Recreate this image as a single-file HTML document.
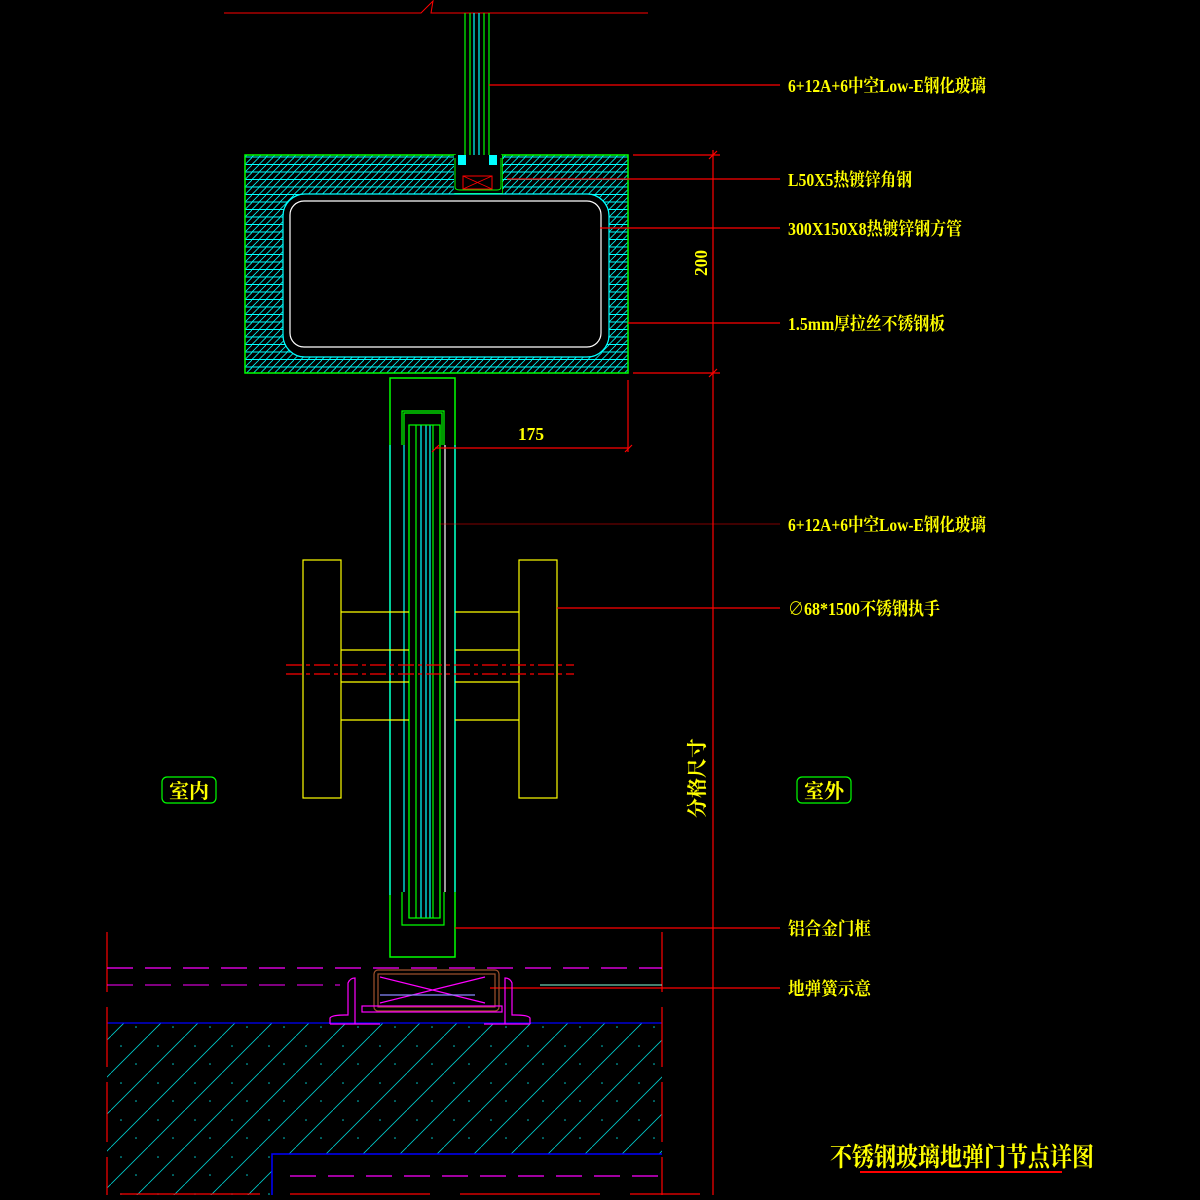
<!DOCTYPE html>
<html><head><meta charset="utf-8"><style>
html,body{margin:0;padding:0;background:#000;width:1200px;height:1200px;overflow:hidden}
svg{display:block}
text{font-family:"Liberation Serif","Noto Serif CJK SC","Noto Sans CJK SC",serif;fill:#ffff00;font-weight:bold}
</style></head><body>
<svg width="1200" height="1200" viewBox="0 0 1200 1200" xmlns="http://www.w3.org/2000/svg">
<defs>
<pattern id="h1" width="14" height="7.5" patternUnits="userSpaceOnUse">
<rect width="14" height="7.5" fill="#000"/>
<line x1="0" y1="7" x2="14" y2="7" stroke="#00ffff" stroke-width="1"/>
<line x1="0" y1="7" x2="7" y2="0" stroke="#00ffff" stroke-width="0.8"/>
<line x1="7" y1="7" x2="14" y2="0" stroke="#00ffff" stroke-width="0.8"/>
</pattern>
<pattern id="con" width="37" height="37" patternUnits="userSpaceOnUse">
<rect width="37" height="37" fill="#000"/>
<line x1="0" y1="37" x2="37" y2="0" stroke="#00cccc" stroke-width="0.8"/>
<circle cx="10" cy="10" r="0.8" fill="#00cccc"/>
<circle cx="25" cy="28" r="0.8" fill="#00cccc"/>
</pattern>
</defs>

<polyline points="224,13 421,13 433,1 431,13 648,13" fill="none" stroke="#f00" stroke-width="1"/>
<g stroke-width="1.2" fill="none">
<line x1="465" y1="13" x2="465" y2="172" stroke="#0f0"/>
<line x1="470" y1="13" x2="470" y2="172" stroke="#0f0"/>
<line x1="474" y1="13" x2="474" y2="172" stroke="#0ff"/>
<line x1="479" y1="13" x2="479" y2="172" stroke="#0ff"/>
<line x1="484" y1="13" x2="484" y2="172" stroke="#0f0"/>
<line x1="489" y1="13" x2="489" y2="172" stroke="#0f0"/>
</g>
<path d="M245,155 H455 V193 H502 V155 H628 V373 H245 Z" fill="url(#h1)" stroke="#0f0" stroke-width="1.5"/>
<rect x="283" y="194" width="326" height="163" rx="22" fill="#000" stroke="#0ff" stroke-width="1.2"/>
<rect x="290" y="201" width="311" height="146" rx="14" fill="#000" stroke="#fff" stroke-width="1.2"/>
<rect x="454" y="155" width="48" height="38" fill="#000"/>
<path d="M455,158 V187 Q455,190 460,190 H497 Q501,190 501,187 V158" fill="none" stroke="#0f0" stroke-width="1"/>
<rect x="463" y="176" width="29" height="13" fill="none" stroke="#f00"/>
<path d="M463,176 L492,189 M463,189 L492,176" stroke="#f00" stroke-width="0.8"/>
<rect x="458" y="155" width="8" height="10" fill="#0ff"/>
<rect x="489" y="155" width="8" height="10" fill="#0ff"/>
<g fill="none" stroke-width="1.2">
<rect x="390" y="378" width="65" height="579" stroke="#0f0" stroke-width="1.5"/>
<path d="M402,445 V411 H444 V445" stroke="#0f0"/>
<path d="M404,445 V413 H442 V445" stroke="#0f0"/>
<path d="M402,892 V925 H444 V892" stroke="#0f0"/>
<line x1="390" y1="445" x2="390" y2="895" stroke="#0ff"/>
<line x1="404" y1="445" x2="404" y2="892" stroke="#0ff"/>
<line x1="409" y1="425" x2="409" y2="918" stroke="#0f0"/>
<line x1="416" y1="425" x2="416" y2="918" stroke="#0f0"/>
<line x1="421" y1="425" x2="421" y2="918" stroke="#0ff"/>
<line x1="426" y1="425" x2="426" y2="918" stroke="#0ff"/>
<line x1="430" y1="425" x2="430" y2="918" stroke="#0ff"/>
<line x1="433" y1="425" x2="433" y2="918" stroke="#0f0"/>
<line x1="440" y1="425" x2="440" y2="918" stroke="#0f0"/>
<line x1="455" y1="445" x2="455" y2="892" stroke="#0ff"/>
<line x1="445" y1="445" x2="445" y2="892" stroke="#fff"/>
<rect x="409" y="425" width="31" height="493" stroke="#0f0"/>
</g>
<g fill="none" stroke="#ff0" stroke-width="1.2">
<rect x="303" y="560" width="38" height="238"/>
<rect x="519" y="560" width="38" height="238"/>
<line x1="341" y1="612" x2="409" y2="612"/><line x1="341" y1="650" x2="409" y2="650"/>
<line x1="341" y1="682" x2="409" y2="682"/><line x1="341" y1="720" x2="409" y2="720"/>
<line x1="455" y1="612" x2="519" y2="612"/><line x1="455" y1="650" x2="519" y2="650"/>
<line x1="455" y1="682" x2="519" y2="682"/><line x1="455" y1="720" x2="519" y2="720"/>
</g>
<line x1="286" y1="665" x2="574" y2="665" stroke="#f00" stroke-width="1.3" stroke-dasharray="16,4,4,4"/>
<line x1="286" y1="674" x2="574" y2="674" stroke="#f00" stroke-width="1.3" stroke-dasharray="16,4,4,4"/>
<g stroke="#f00" stroke-width="1.2" fill="none">
<line x1="713" y1="150" x2="713" y2="1195"/>
<line x1="633" y1="155" x2="720" y2="155"/>
<line x1="633" y1="373" x2="720" y2="373"/>
<path d="M709,159 L717,151 M709,377 L717,369"/>
<line x1="628" y1="380" x2="628" y2="452"/>
<line x1="435" y1="448" x2="628" y2="448"/>
<path d="M432,452 L439,445 M625,452 L632,445"/>
</g>
<text x="0" y="0" font-size="18" transform="translate(707,276) rotate(-90)" textLength="26" lengthAdjust="spacingAndGlyphs">200</text>
<text x="518" y="440" font-size="18" textLength="26" lengthAdjust="spacingAndGlyphs">175</text>
<text x="0" y="0" font-size="20" transform="translate(704,818) rotate(-90)">分格尺寸</text>
<rect x="162" y="777" width="54" height="26" rx="5" fill="none" stroke="#0f0" stroke-width="1.2"/>
<text x="169" y="798" font-size="20">室内</text>
<rect x="797" y="777" width="54" height="26" rx="5" fill="none" stroke="#0f0" stroke-width="1.2"/>
<text x="804" y="798" font-size="20">室外</text>
<g stroke="#f00" stroke-width="1.2">
<line x1="489" y1="85" x2="780" y2="85"/>
<line x1="507" y1="179" x2="780" y2="179"/>
<line x1="600" y1="228" x2="780" y2="228"/>
<line x1="628" y1="323" x2="780" y2="323"/>
<line x1="440" y1="524" x2="780" y2="524" stroke-width="0.6"/>
<line x1="557" y1="608" x2="780" y2="608"/>
<line x1="455" y1="928" x2="780" y2="928"/>
<line x1="490" y1="988" x2="780" y2="988"/>
</g>
<g font-size="18" lengthAdjust="spacingAndGlyphs">
<text x="788" y="92" textLength="198" lengthAdjust="spacingAndGlyphs">6+12A+6中空Low-E钢化玻璃</text>
<text x="788" y="186" textLength="124" lengthAdjust="spacingAndGlyphs">L50X5热镀锌角钢</text>
<text x="788" y="235" textLength="174" lengthAdjust="spacingAndGlyphs">300X150X8热镀锌钢方管</text>
<text x="788" y="330" textLength="157" lengthAdjust="spacingAndGlyphs">1.5mm厚拉丝不锈钢板</text>
<text x="788" y="531" textLength="198" lengthAdjust="spacingAndGlyphs">6+12A+6中空Low-E钢化玻璃</text>
<text x="788" y="615" textLength="152" lengthAdjust="spacingAndGlyphs">∅68*1500不锈钢执手</text>
<text x="788" y="935" textLength="83" lengthAdjust="spacingAndGlyphs">铝合金门框</text>
<text x="788" y="995" textLength="83" lengthAdjust="spacingAndGlyphs">地弹簧示意</text>
</g>
<rect x="107" y="1023" width="555" height="172" fill="url(#con)"/>
<rect x="272" y="1154" width="390" height="41" fill="#000"/>
<line x1="107" y1="1023" x2="662" y2="1023" stroke="#00f" stroke-width="1.2"/>
<polyline points="272,1195 272,1154 662,1154" fill="none" stroke="#00f" stroke-width="1.5"/>
<line x1="107" y1="932" x2="107" y2="1195" stroke="#f00" stroke-width="1.2" stroke-dasharray="60,15"/>
<line x1="662" y1="932" x2="662" y2="1195" stroke="#f00" stroke-width="1.2" stroke-dasharray="60,15"/>
<line x1="107" y1="968" x2="662" y2="968" stroke="#f0f" stroke-width="1.2" stroke-dasharray="26,12"/>
<line x1="107" y1="985" x2="340" y2="985" stroke="#f0f" stroke-dasharray="26,12"/>
<line x1="540" y1="985" x2="662" y2="985" stroke="#8fd" stroke-width="1"/>
<line x1="290" y1="1176" x2="662" y2="1176" stroke="#f0f" stroke-width="1.2" stroke-dasharray="26,12"/>
<line x1="120" y1="1194" x2="700" y2="1194" stroke="#f00" stroke-width="1.2" stroke-dasharray="140,30"/>
<g fill="none" stroke-width="1.2">
<path d="M330,1024 V1018 Q332,1015 345,1015 H348 V983 Q350,978 355,978 V1024 M530,1024 V1018 Q528,1015 515,1015 H512 V983 Q510,978 505,978 V1024" stroke="#f0f"/>
<line x1="330" y1="1024" x2="380" y2="1024" stroke="#f0f"/>
<line x1="484" y1="1024" x2="530" y2="1024" stroke="#f0f"/>
<rect x="374" y="970" width="125" height="41" rx="4" stroke="#a0522d"/>
<rect x="378" y="974" width="117" height="33" stroke="#a0522d"/>
<path d="M380,977 L485,1003 M380,1003 L485,977" stroke="#f0f"/>
<rect x="362" y="1006" width="140" height="6" stroke="#f0f"/>
<line x1="380" y1="995" x2="475" y2="995" stroke="#88f"/>
</g>
<text x="830" y="1166" font-size="26" textLength="264" lengthAdjust="spacingAndGlyphs">不锈钢玻璃地弹门节点详图</text>
<line x1="860" y1="1172" x2="1062" y2="1172" stroke="#f00" stroke-width="2"/>
</svg>
</body></html>
